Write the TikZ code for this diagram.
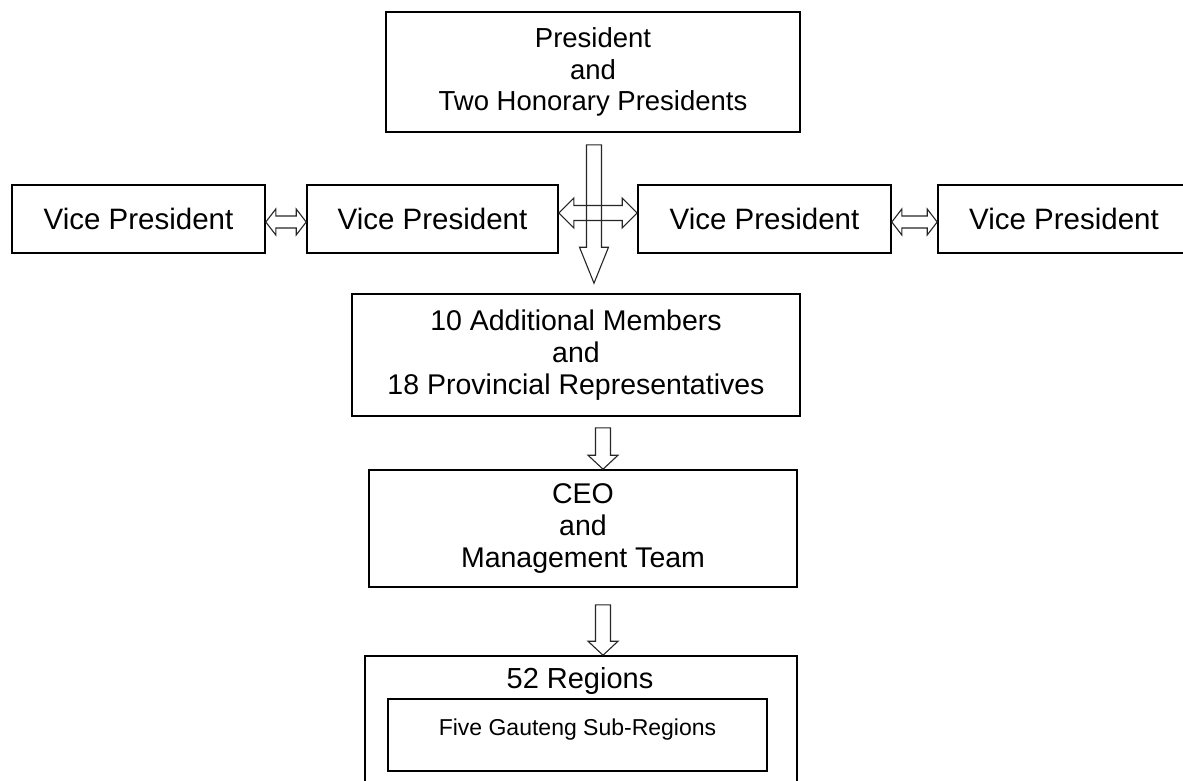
\documentclass[tikz,border=0pt]{standalone}
\usepackage{fontspec}
\setmainfont{Liberation Sans}
\usetikzlibrary{calc}

% vertical block arrow: start point, tip, shaft half-width, head half-width, head length
\newcommand\downblock[5]{%
  \draw[arrowline] let \p1=(#1), \p2=(#2) in
    (\x1-#3,\y1) -- (\x1+#3,\y1) -- (\x1+#3,\y2+#5) -- (\x1+#4,\y2+#5) -- (\x1,\y2)
    -- (\x1-#4,\y2+#5) -- (\x1-#3,\y2+#5) -- cycle;}
% horizontal double-headed block arrow: left tip, right tip, shaft half-width, head half-width, head length
\newcommand\sideblock[5]{%
  \draw[arrowline] let \p1=(#1), \p2=(#2) in
    (\x1,\y1) -- (\x1+#5,\y1+#4) -- (\x1+#5,\y1+#3) -- (\x2-#5,\y1+#3) -- (\x2-#5,\y1+#4)
    -- (\x2,\y1) -- (\x2-#5,\y1-#4) -- (\x2-#5,\y1-#3) -- (\x1+#5,\y1-#3) -- (\x1+#5,\y1-#4) -- cycle;}

\tikzset{
  box/.style={draw=black, line width=1.6pt, inner sep=0pt, align=center},
  bigtext/.style={font=\fontsize{28.5}{32}\selectfont},
  arrowline/.style={draw=black!85, line width=1.1pt, line join=miter},
  smalltext/.style={font=\fontsize{23}{26}\selectfont, inner sep=0pt},
}

\begin{document}
\begin{tikzpicture}[x=1pt, y=-1pt]
  \useasboundingbox (0,0) rectangle (1183,780);
  \fill[white] (0,0) rectangle (1183,780);

  % governing board
  \node[box, font=\fontsize{27.5}{31.5}\selectfont, minimum width=414, minimum height=120] (top) at (593,72)
    {President\\and\\Two Honorary Presidents};

  % row of vice presidents
  \node[box, font=\fontsize{29.5}{32}\selectfont, minimum width=253, minimum height=68] (vp1) at (138.5,219) {Vice President};
  \node[box, font=\fontsize{29.5}{32}\selectfont, minimum width=251, minimum height=68] (vp2) at (432.5,219) {Vice President};
  \node[box, font=\fontsize{29.5}{32}\selectfont, minimum width=253, minimum height=68] (vp3) at (764.5,219) {Vice President};
  \node[box, font=\fontsize{29.5}{32}\selectfont, minimum width=252, minimum height=68] (vp4) at (1064,219) {Vice President};

  % council
  \node[box, bigtext, minimum width=448, minimum height=122] (mid) at (576,355)
    {10 Additional Members\\and\\18 Provincial Representatives};

  % management
  \node[box, bigtext, minimum width=428, minimum height=117] (ceo) at (583,528.5)
    {CEO\\and\\Management Team};

  % regions
  \node[box, minimum width=432, minimum height=150] (reg) at (581,731) {};
  \node[inner sep=0pt, font=\fontsize{29}{32}\selectfont] (regtitle) at (580,681) {52 Regions};
  \node[draw=black, line width=1.4pt, minimum width=379, minimum height=72, inner sep=0pt] (sub) at (577.5,735) {};
  \node[smalltext] (subtext) at ($(sub.center)+(0,-5)$) {Five Gauteng Sub-Regions};

  % anchor points for the block arrows
  \coordinate (vtop) at ($(top.south)+(1,12)$);
  \coordinate (vtip) at ($(mid.north -| vtop)+(0,-10)$);
  \coordinate (d1top) at ($(mid.south)+(27,11)$);
  \coordinate (d1tip) at (ceo.north -| d1top);
  \coordinate (d2top) at ($(ceo.south)+(20,17)$);
  \coordinate (d2tip) at (reg.north -| d2top);

  % arrows
  \downblock{vtop}{vtip}{7.5pt}{14.5pt}{36pt}
  \sideblock{$(vp2.east)+(0,-6)$}{$(vp3.west)+(0,-6)$}{7.5pt}{15pt}{15pt}
  \sideblock{$(vp1.east)+(0,3)$}{$(vp2.west)+(0,3)$}{6pt}{13pt}{10pt}
  \sideblock{$(vp3.east)+(0,3)$}{$(vp4.west)+(0,3)$}{6pt}{13pt}{10pt}
  \downblock{d1top}{d1tip}{7.5pt}{15pt}{14pt}
  \downblock{d2top}{d2tip}{7.5pt}{15pt}{14pt}
\end{tikzpicture}
\end{document}
